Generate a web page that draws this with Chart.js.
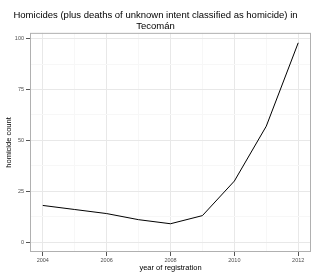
<!DOCTYPE html>
<html>
<head>
<meta charset="utf-8">
<script src="https://cdn.jsdelivr.net/npm/chart.js@4/dist/chart.umd.min.js"></script>
<style>
  html, body { margin: 0; padding: 0; background: #ffffff; }
  #wrap { width: 320px; height: 274px; position: relative; }
</style>
</head>
<body>
<div id="wrap"><canvas id="chart"></canvas></div>
<script>
(function () {
  'use strict';

  // Data
  var years = [2004, 2005, 2006, 2007, 2008, 2009, 2010, 2011, 2012];
  var homicides = [18, 16, 14, 11, 9, 13, 30, 57, 98];
  var yTicks = [0, 12.5, 25, 37.5, 50, 62.5, 75, 87.5, 100];
  var xTicks = [2004, 2005, 2006, 2007, 2008, 2009, 2010, 2011, 2012];

  var font = "'Liberation Sans', Arial, Helvetica, sans-serif";
  Chart.defaults.font.family = font;
  Chart.defaults.color = '#4d4d4d';

  function isMajorY(v) { return v % 25 === 0; }
  function isMajorX(v) { return v % 2 === 0; }

  // panel border like theme_bw
  var panelBorder = {
    id: 'panelBorder',
    afterDraw: function (chart) {
      var a = chart.chartArea, c = chart.ctx;
      c.save();
      c.strokeStyle = '#b0b0b0';
      c.lineWidth = 1;
      c.strokeRect(a.left + 0.5, a.top + 0.5, a.right - a.left - 1, a.bottom - a.top - 1);
      c.restore();
    }
  };

  var ctx = document.getElementById('chart').getContext('2d');
  new Chart(ctx, {
    type: 'line',
    data: {
      datasets: [{
        data: years.map(function (y, i) { return { x: y, y: homicides[i] }; }),
        borderColor: '#000000',
        borderWidth: 1,
        pointRadius: 0,
        fill: false,
        tension: 0
      }]
    },
    options: {
      responsive: true,
      maintainAspectRatio: false,
      animation: false,
      layout: { padding: { left: 0, right: 9, top: 0, bottom: 0 } },
      plugins: {
        legend: { display: false },
        tooltip: { enabled: false },
        title: {
          display: true,
          text: ['Homicides (plus deaths of unknown intent classified as homicide) in', 'Tecomán'],
          color: '#000000',
          font: { size: 9.5, weight: 'normal', lineHeight: 1.15 },
          padding: { top: 10, bottom: 1 }
        }
      },
      scales: {
        x: {
          type: 'linear',
          min: 2003.6,
          max: 2012.4,
          afterBuildTicks: function (s) { s.ticks = xTicks.map(function (v) { return { value: v }; }); },
          afterFit: function (s) { s.height = 22; },
          grid: {
            color: function (c) { return isMajorX(c.tick.value) ? '#e8e8e8' : '#f7f7f7'; },
            tickColor: function (c) { return isMajorX(c.tick.value) ? '#555555' : 'rgba(0,0,0,0)'; },
            tickLength: 4,
            drawOnChartArea: true
          },
          border: { display: false },
          ticks: {
            autoSkip: false,
            maxRotation: 0,
            padding: 1,
            color: '#4d4d4d',
            font: { size: 5.5 },
            callback: function (v) { return isMajorX(v) ? String(v) : ''; }
          },
          title: {
            display: true,
            text: 'year of registration',
            color: '#000000',
            font: { size: 7.5 },
            padding: { top: 0, bottom: 1.5 }
          }
        },
        y: {
          min: -4.9,
          max: 102.9,
          afterBuildTicks: function (s) { s.ticks = yTicks.map(function (v) { return { value: v }; }); },
          afterFit: function (s) { s.width = 30; },
          grid: {
            color: function (c) { return isMajorY(c.tick.value) ? '#e8e8e8' : '#f7f7f7'; },
            tickColor: function (c) { return isMajorY(c.tick.value) ? '#555555' : 'rgba(0,0,0,0)'; },
            tickLength: 4
          },
          border: { display: false },
          ticks: {
            autoSkip: false,
            padding: 2,
            color: '#4d4d4d',
            font: { size: 5.5 },
            callback: function (v) { return isMajorY(v) ? String(v) : ''; }
          },
          title: {
            display: true,
            text: 'homicide count',
            color: '#000000',
            font: { size: 7.5 },
            padding: { top: 4, bottom: 0 }
          }
        }
      }
    },
    plugins: [panelBorder]
  });
})();
</script>
</body>
</html>
